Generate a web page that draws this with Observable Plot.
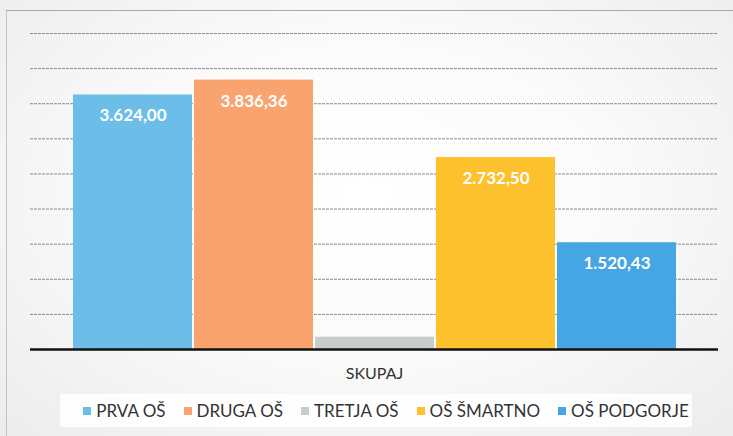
<!DOCTYPE html>
<html>
<head>
<meta charset="utf-8">
<script src="https://cdn.jsdelivr.net/npm/d3@7"></script>
<script src="https://cdn.jsdelivr.net/npm/@observablehq/plot@0.6"></script>
<style>
  html, body { margin: 0; padding: 0; }
  body { width: 733px; height: 436px; overflow: hidden; background: #ececec; }
  #wrap {
    position: relative; width: 733px; height: 436px;
    background: radial-gradient(ellipse at 50% 45%, #ffffff 0%, #fbfbfb 45%, #ececec 100%);
    font-family: Lato, "Open Sans", sans-serif;
  }
  #frame { position: absolute; left: 6px; top: 10px; right: -2px; bottom: -2px;
    border-top: 1px solid #a8a8a8; border-left: 1px solid #c4c4c4; pointer-events: none; }
  #chart { position: absolute; left: 0; top: 0; }
  #legend {
    position: absolute; left: 60px; top: 394px; width: 632px; height: 33px;
    background: rgba(255,255,255,0.85);
    display: flex; justify-content: center; align-items: center; gap: 18px;
    font-size: 17px; color: #333;
    padding-left: 20px; box-sizing: border-box;
  }
  #legend .item { display: flex; align-items: center; gap: 5px; }
  #legend .sw { width: 8px; height: 8px; display: inline-block; }
</style>
</head>
<body>
<div id="wrap">
  <div id="chart"></div>
  <div id="legend"></div>
  <div id="frame"></div>
</div>
<script>
const schools = ["PRVA OŠ", "DRUGA OŠ", "TRETJA OŠ", "OŠ ŠMARTNO", "OŠ PODGORJE"];
const values = [3624.00, 3836.36, 175, 2732.50, 1520.43];
const colors = ["#6cbde8", "#f9a46e", "#c9cccd", "#fcc12c", "#45a6e3"];
const category = "SKUPAJ";
const yTicks = [500, 1000, 1500, 2000, 2500, 3000, 3500, 4000, 4500];

const data = schools.map((s, i) => ({school: s, value: values[i]}));
const fmt = d3.formatLocale({decimal: ",", thousands: ".", grouping: [3], currency: ["", ""]}).format(",.2f");

const chart = Plot.plot({
  width: 733,
  height: 390,
  marginTop: 33,
  marginBottom: 41,
  marginLeft: 30,
  marginRight: 15,
  style: {background: "transparent", fontFamily: "Lato, 'Open Sans', sans-serif"},
  x: {type: "band", domain: schools, range: [70, 678], padding: 0, axis: null},
  y: {domain: [0, 4500], axis: null},
  color: {domain: schools, range: colors},
  marks: [
    Plot.ruleY(yTicks, {stroke: "#8a8a8a", strokeWidth: 1, strokeDasharray: "3,1"}),
    Plot.barY(data, {x: "school", y: "value", fill: "school", insetLeft: 1, insetRight: 1}),
    Plot.text(data.filter(d => d.value > 1000), {
      x: "school", y: "value", text: d => fmt(d.value), dy: 21,
      fill: "white", fontWeight: "bold", fontSize: 17, lineAnchor: "middle"
    }),
    Plot.ruleY([0], {stroke: "#111", strokeWidth: 2.5}),
    Plot.text([category], {
      frameAnchor: "bottom", dy: 24, text: d => d, fontSize: 16, fill: "#333", lineAnchor: "middle"
    })
  ]
});
document.getElementById("chart").appendChild(chart);

const legend = document.getElementById("legend");
schools.forEach((s, i) => {
  const item = document.createElement("span");
  item.className = "item";
  const sw = document.createElement("span");
  sw.className = "sw";
  sw.style.background = colors[i];
  const lab = document.createElement("span");
  lab.textContent = s;
  item.appendChild(sw);
  item.appendChild(lab);
  legend.appendChild(item);
});
</script>
</body>
</html>
